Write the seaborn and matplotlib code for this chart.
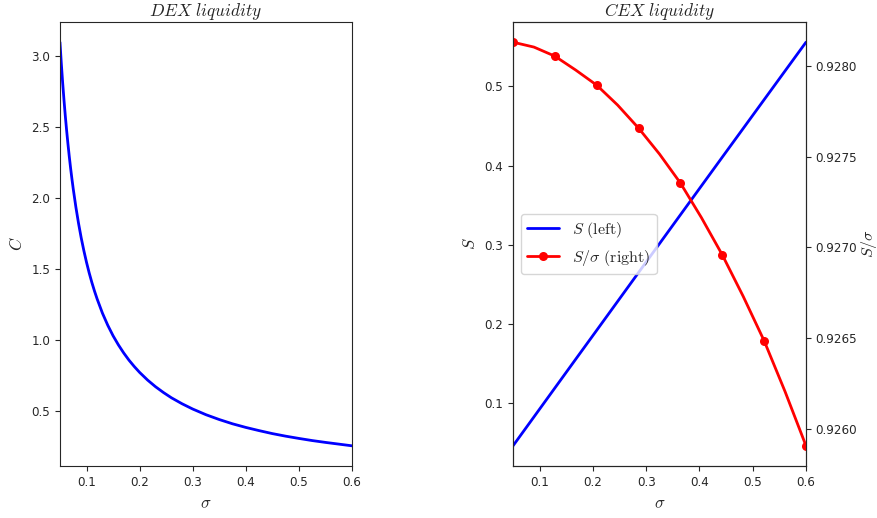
import numpy as np
import pandas as pd
import matplotlib
matplotlib.use("Agg")
import matplotlib.pyplot as plt
import seaborn as sns

# ---- data ----
sigma_dex = [0.05, 0.0525, 0.055, 0.0575, 0.06, 0.0625, 0.065, 0.0675, 0.07, 0.0725,
             0.075, 0.08, 0.085, 0.09, 0.095, 0.10, 0.105, 0.11, 0.115, 0.12, 0.13,
             0.14, 0.15, 0.16, 0.17, 0.18, 0.19, 0.20, 0.215, 0.23, 0.245, 0.26,
             0.28, 0.30, 0.325, 0.35, 0.375, 0.40, 0.425, 0.45, 0.475, 0.50, 0.525,
             0.55, 0.575, 0.60]
C_dex = [3.10, 2.952, 2.818, 2.696, 2.583, 2.480, 2.385, 2.296, 2.214, 2.138,
         2.067, 1.938, 1.824, 1.722, 1.632, 1.55, 1.476, 1.409, 1.348, 1.292, 1.192,
         1.107, 1.033, 0.969, 0.912, 0.861, 0.816, 0.775, 0.721, 0.674, 0.633, 0.596,
         0.554, 0.517, 0.477, 0.443, 0.413, 0.3875, 0.365, 0.344, 0.326, 0.31, 0.295,
         0.282, 0.27, 0.258]

sigma_cex = [0.05, 0.08929, 0.12857, 0.16786, 0.20714, 0.24643, 0.28571, 0.325,
             0.36429, 0.40357, 0.44286, 0.48214, 0.52143, 0.56071, 0.60]
S_cex = [0.046407, 0.08288, 0.11935, 0.15581, 0.19217, 0.22861, 0.26503, 0.30144,
         0.33784, 0.37420, 0.41055, 0.44678, 0.48307, 0.51932, 0.55554]
S_over_sigma = [0.928132, 0.928105, 0.928055, 0.927978, 0.927895, 0.927785, 0.927658,
                0.927515, 0.927355, 0.927165, 0.926959, 0.926730, 0.926485, 0.926205,
                0.925906]

left_ticks = [0.5, 1.0, 1.5, 2.0, 2.5, 3.0]
x_ticks = [0.1, 0.2, 0.3, 0.4, 0.5, 0.6]
right_ticks = [0.9260, 0.9265, 0.9270, 0.9275, 0.9280]

# ---- style ----
sns.set_style("ticks")
plt.rcParams["font.family"] = ["DejaVu Sans"]
plt.rcParams["mathtext.fontset"] = "cm"
plt.rcParams["font.size"] = 8.6

fig = plt.figure(figsize=(8.78, 5.18), dpi=100)
ax1 = fig.add_axes([0.0683, 0.1004, 0.3326, 0.8571])
ax = fig.add_axes([0.5843, 0.1004, 0.3337, 0.8571])
ax2 = ax.twinx()

df_dex = pd.DataFrame({"sigma": sigma_dex, "C": C_dex})
sns.lineplot(data=df_dex, x="sigma", y="C", ax=ax1, color="blue", lw=2, legend=False)
ax1.set_xlim(0.05, 0.6)
ax1.set_xticks(x_ticks)
ax1.set_yticks(left_ticks)
ax1.set_xlabel(r"$\sigma$", fontsize=12)
ax1.set_ylabel(r"$C$", fontsize=12)
ax1.set_title(r"$DEX\ liquidity$", fontsize=12.5, pad=4)

df_cex = pd.DataFrame({"sigma": sigma_cex, "S": S_cex, "R": S_over_sigma})
sns.lineplot(data=df_cex, x="sigma", y="S", ax=ax, color="blue", lw=2,
             legend=False, label=r"$S\ \mathrm{(left)}$")
sns.lineplot(data=df_cex, x="sigma", y="R", ax=ax2, color="red", lw=2,
             marker="o", markersize=6.5, markeredgewidth=0, markevery=2,
             legend=False, label=r"$S/\sigma\ \mathrm{(right)}$")
ax.set_xlim(0.05, 0.6)
ax.set_xticks(x_ticks)
ax.set_xlabel(r"$\sigma$", fontsize=12)
ax.set_ylabel(r"$S$", fontsize=12)
ax2.set_ylabel(r"$S/\sigma$", fontsize=11.5)
ax2.yaxis.set_label_coords(1.18, 0.5)
ax.set_title(r"$CEX\ liquidity$", fontsize=12.5, pad=4)
ax2.yaxis.set_major_formatter(matplotlib.ticker.FormatStrFormatter("%.4f"))
ax2.set_yticks(right_ticks)

for a in (ax1, ax, ax2):
    for s in a.spines.values():
        s.set_visible(True)
        s.set_linewidth(0.8)

h1, l1 = ax.get_legend_handles_labels()
h2, l2 = ax2.get_legend_handles_labels()
ax2.legend(h1 + h2, l1 + l2, loc="center left", fontsize=11.5)

fig.savefig("out.png", dpi=100)
